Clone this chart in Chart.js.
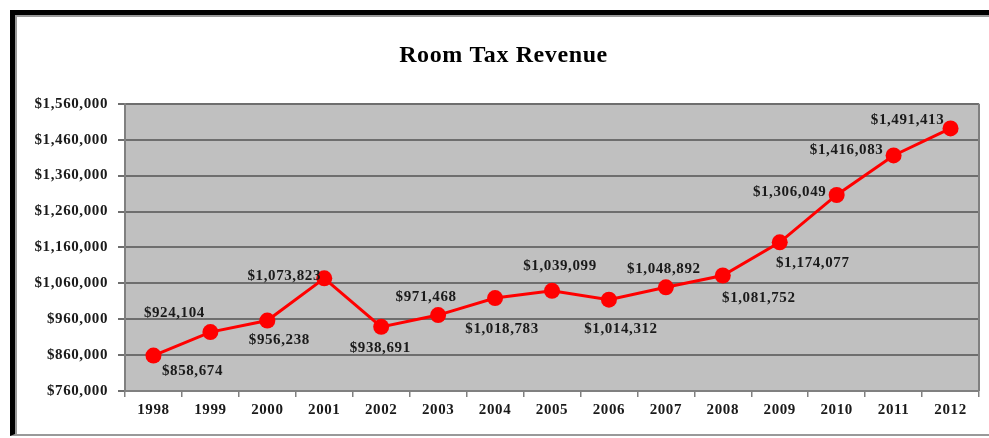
<!DOCTYPE html>
<html>
<head>
<meta charset="utf-8">
<script src="https://cdn.jsdelivr.net/npm/chart.js@4"></script>
<style>
  body { margin: 0; background: #fff; }
  #wrap { position: relative; width: 989px; height: 438px; overflow: hidden; }
  #frame {
    position: absolute; left: 10px; top: 10px; width: 1100px; height: 419px;
    border-left: 5px solid #000; border-top: 5px solid #000; border-bottom: 2px solid #999;
    box-shadow: inset 2px 2px 0 #999;
  }
  canvas { position: absolute; left: 0; top: 0; }
</style>
</head>
<body>
<div id="wrap">
  <div id="frame"></div>
  <canvas id="chart" width="989" height="438"></canvas>
</div>
<script>
const years = ["1998", "1999", "2000", "2001", "2002", "2003", "2004", "2005",
               "2006", "2007", "2008", "2009", "2010", "2011", "2012"];
const revenue = [858674, 924104, 956238, 1073823, 938691, 971468, 1018783, 1039099,
                 1014312, 1048892, 1081752, 1174077, 1306049, 1416083, 1491413];
const yMin = 760000;
const yMax = 1560000;
const yStep = 100000;

// where each value label sits relative to its point (dx, dy in px)
const labelOffsets = [
  [39, 16], [-36, -19], [12, 20], [-40, -2], [-1, 21], [-12, -18], [7, 31], [8, -25],
  [12, 29], [-2, -18], [36, 23], [33, 21], [-47, -3], [-47, -5], [-43, -8]
];

const serif = "'Liberation Serif', 'Times New Roman', serif";
const money = v => "$" + v.toLocaleString("en-US");

const plotBg = {
  id: "plotBg",
  beforeDraw(chart) {
    const { ctx, chartArea: a } = chart;
    // the source text is a bit stretched, widen it a little
    ctx.letterSpacing = "0.6px";
    ctx.save();
    ctx.fillStyle = "#c0c0c0";
    ctx.fillRect(a.left, a.top, a.right - a.left, a.bottom - a.top);
    ctx.restore();
  },
  beforeDatasetsDraw(chart) {
    const { ctx, chartArea: a } = chart;
    ctx.save();
    ctx.strokeStyle = "#808080";
    ctx.lineWidth = 2;
    ctx.beginPath();
    ctx.moveTo(a.right, a.top);
    ctx.lineTo(a.right, a.bottom);
    ctx.stroke();
    ctx.restore();
  }
};

const valueLabels = {
  id: "valueLabels",
  afterDatasetsDraw(chart) {
    const { ctx } = chart;
    const meta = chart.getDatasetMeta(0);
    ctx.save();
    ctx.font = "bold 15px " + serif;
    ctx.fillStyle = "#1a1a1a";
    ctx.textAlign = "center";
    ctx.textBaseline = "middle";
    meta.data.forEach((pt, i) => {
      const [dx, dy] = labelOffsets[i];
      ctx.fillText(money(revenue[i]), pt.x + dx, pt.y + dy);
    });
    ctx.restore();
  }
};

new Chart(document.getElementById("chart"), {
  type: "line",
  data: {
    labels: years,
    datasets: [{
      data: revenue,
      borderColor: "#ff0000",
      backgroundColor: "#ff0000",
      borderWidth: 3,
      pointRadius: 8,
      pointBorderWidth: 0,
      pointBackgroundColor: "#ff0000",
      tension: 0
    }]
  },
  options: {
    responsive: false,
    animation: false,
    events: [],
    layout: { padding: { left: 28, right: 10, top: 14, bottom: 14 } },
    plugins: {
      legend: { display: false },
      tooltip: { enabled: false },
      title: {
        display: true,
        text: "Room Tax Revenue",
        color: "#000",
        font: { family: serif, size: 24, weight: "bold" },
        padding: { top: 27, bottom: 34 }
      }
    },
    scales: {
      x: {
        offset: true,
        afterFit(scale) { scale.height = 33; },
        grid: {
          offset: true,
          drawOnChartArea: false,
          drawTicks: true,
          tickLength: 6,
          color: "#808080",
          lineWidth: 1.5
        },
        border: { display: true, color: "#808080", width: 2 },
        ticks: {
          color: "#1a1a1a",
          padding: 4,
          font: { family: serif, size: 15, weight: "bold" }
        }
      },
      y: {
        min: yMin,
        max: yMax,
        afterFit(scale) { scale.width = 97; },
        grid: {
          color: "#6e6e6e",
          lineWidth: 2,
          tickLength: 7
        },
        border: { display: true, color: "#808080", width: 2 },
        ticks: {
          stepSize: yStep,
          color: "#1a1a1a",
          padding: 10,
          font: { family: serif, size: 15, weight: "bold" },
          callback: v => money(v)
        }
      }
    }
  },
  plugins: [plotBg, valueLabels]
});
</script>
</body>
</html>
